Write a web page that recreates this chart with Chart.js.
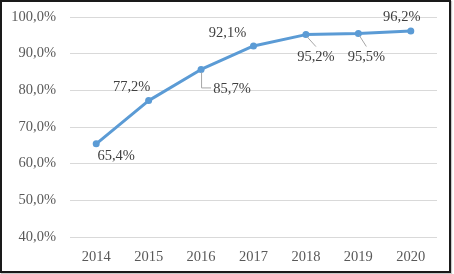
<!DOCTYPE html>
<html>
<head>
<meta charset="utf-8">
<script src="https://cdn.jsdelivr.net/npm/chart.js@4"></script>
<style>
  html, body { margin: 0; padding: 0; background: #fff; }
  #frame {
    position: absolute; left: 0; top: 0;
    width: 451px; height: 273px;
    box-sizing: border-box;
    border: 2px solid #1a1a1a;
    box-shadow: 1px 1px 1px #c8c8c8;
  }
  #frame canvas { display: block; }
</style>
</head>
<body>
<div id="frame"><canvas id="myChart" width="447" height="269"></canvas></div>
<script>
const years = ['2014', '2015', '2016', '2017', '2018', '2019', '2020'];
const coverage = [65.4, 77.2, 85.7, 92.1, 95.2, 95.5, 96.2];
const yTicks = [40, 50, 60, 70, 80, 90, 100];

const FONT = '"Liberation Serif", "Times New Roman", serif';

function fmt(v, d) {
  return v.toFixed(d).replace('.', ',') + '%';
}

// label offsets from each point (px) and optional leader line
const labelPlacement = [
  { dx: 20, dy: 12 },
  { dx: -17, dy: -13 },
  { dx: 31, dy: 20, leader: 'elbow' },
  { dx: -26, dy: -13 },
  { dx: 10, dy: 23, leader: 'diag' },
  { dx: 8, dy: 24, leader: 'diag' },
  { dx: -9, dy: -14 }
];

const pointLabels = {
  id: 'pointLabels',
  afterDatasetsDraw(chart) {
    const ctx = chart.ctx;
    const meta = chart.getDatasetMeta(0);
    ctx.save();
    ctx.font = '14.5px ' + FONT;
    ctx.fillStyle = '#404040';
    ctx.textAlign = 'center';
    ctx.textBaseline = 'middle';
    meta.data.forEach((pt, i) => {
      const p = labelPlacement[i];
      const lx = pt.x + p.dx;
      const ly = pt.y + p.dy;
      ctx.strokeStyle = '#a6a6a6';
      ctx.lineWidth = 1;
      if (p.leader === 'elbow') {
        ctx.beginPath();
        ctx.moveTo(pt.x + 0.5, pt.y + 3);
        ctx.lineTo(pt.x + 0.5, ly - 1.5);
        ctx.lineTo(pt.x + 10, ly - 1.5);
        ctx.stroke();
      } else if (p.leader === 'diag') {
        ctx.beginPath();
        ctx.moveTo(pt.x + 1, pt.y + 2);
        ctx.lineTo(lx, ly - 11);
        ctx.stroke();
      }
      ctx.fillText(fmt(coverage[i], 1), lx, ly);
    });
    ctx.restore();
  }
};

const ctx = document.getElementById('myChart').getContext('2d');
new Chart(ctx, {
  type: 'line',
  data: {
    labels: years,
    datasets: [{
      data: coverage,
      borderColor: '#5b9bd5',
      backgroundColor: '#5b9bd5',
      borderWidth: 3,
      borderJoinStyle: 'round',
      pointRadius: 3.5,
      pointHoverRadius: 3.5,
      pointBorderWidth: 0,
      tension: 0
    }]
  },
  options: {
    responsive: false,
    animation: false,
    layout: { padding: { top: 15, right: 12, left: 0, bottom: 0 } },
    plugins: {
      legend: { display: false },
      tooltip: { enabled: false }
    },
    scales: {
      x: {
        offset: true,
        grid: { display: false, drawTicks: false },
        border: { display: false },
        ticks: {
          color: '#595959',
          font: { family: FONT, size: 14.5 },
          padding: 11,
          maxRotation: 0
        },
        afterFit: s => { s.height = 34; }
      },
      y: {
        min: 40,
        max: 100,
        afterBuildTicks: s => { s.ticks = yTicks.map(v => ({ value: v })); },
        grid: { color: '#d9d9d9', lineWidth: 1, tickLength: 14, tickColor: 'rgba(0,0,0,0)' },
        border: { display: false },
        ticks: {
          color: '#595959',
          font: { family: FONT, size: 14.5 },
          padding: 0,
          callback: v => fmt(v, 1)
        },
        afterFit: s => { s.width = 68; }
      }
    }
  },
  plugins: [pointLabels]
});
</script>
</body>
</html>
